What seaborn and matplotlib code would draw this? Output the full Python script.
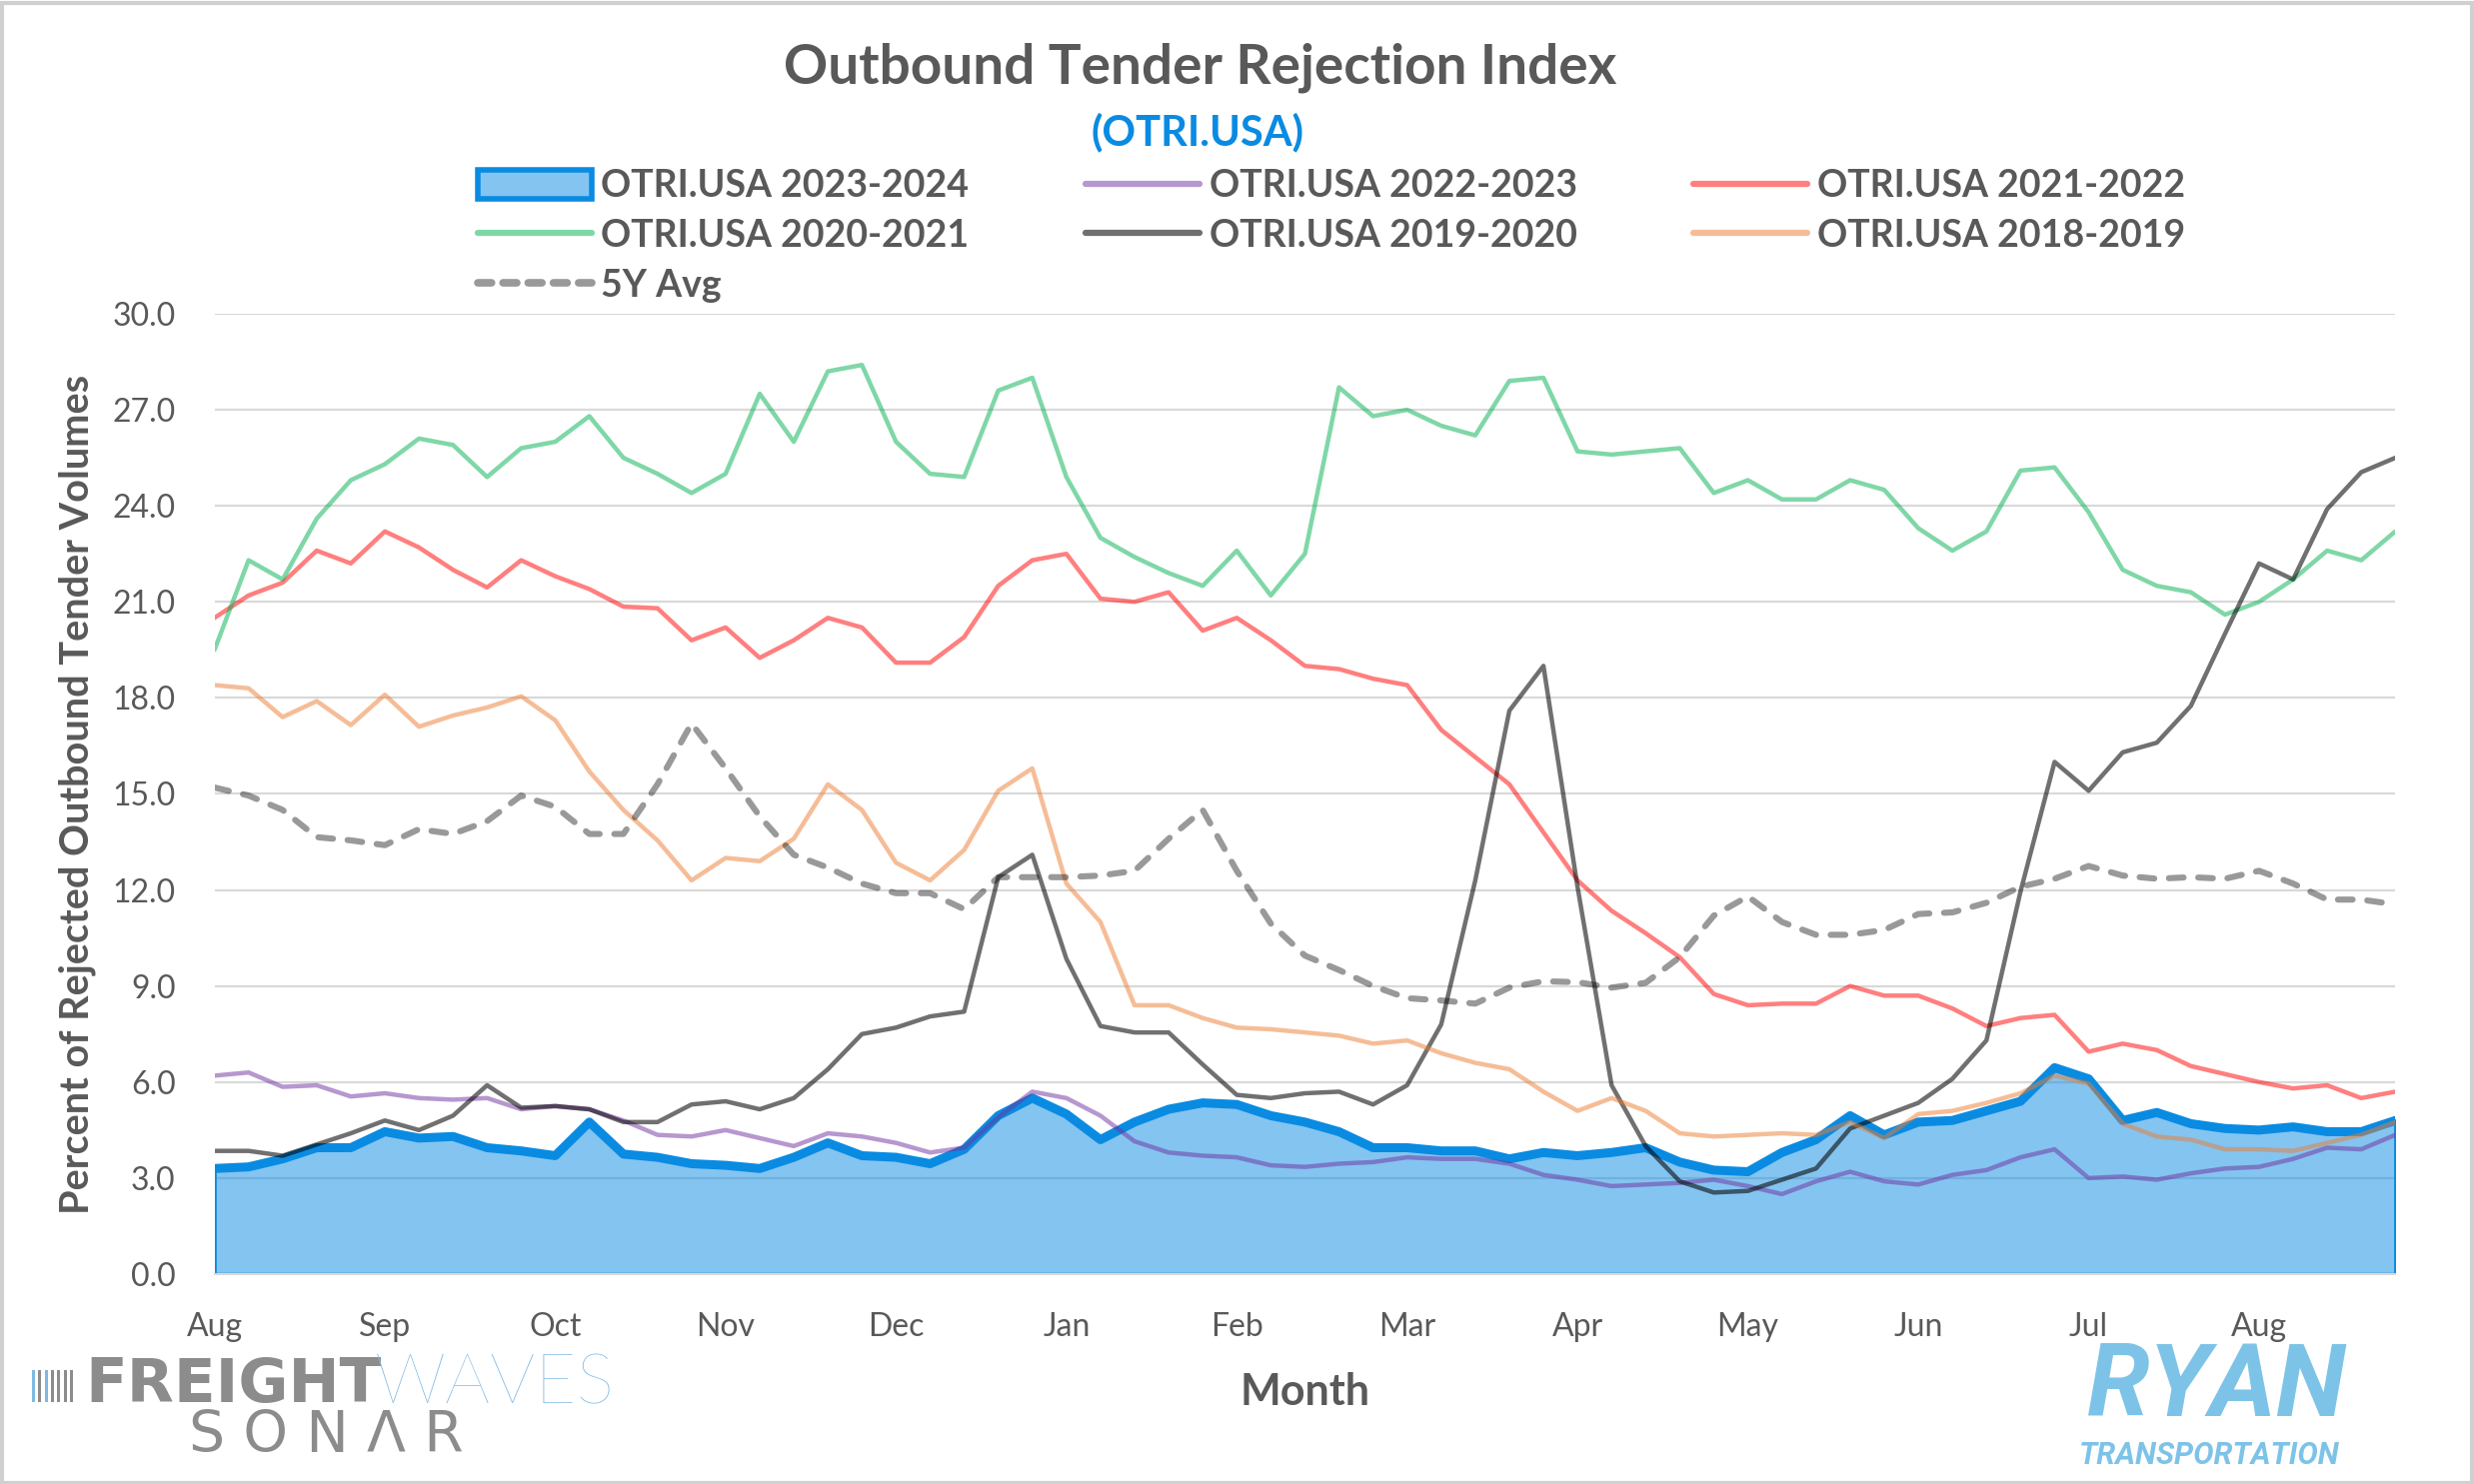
import numpy as np
import pandas as pd
import matplotlib
matplotlib.use("Agg")
import matplotlib.pyplot as plt
import seaborn as sns
from matplotlib.patches import Patch, Rectangle
from matplotlib.lines import Line2D

# ---------------- data ----------------
month_labels = ["Aug", "Sep", "Oct", "Nov", "Dec", "Jan", "Feb", "Mar",
                "Apr", "May", "Jun", "Jul", "Aug"]
# months elapsed since Aug 1 (sampled every ~6 days)
month_offset = np.round(np.arange(65) * 0.2, 1)

otri_2023_2024 = [3.3, 3.35, 3.6, 3.95, 3.95, 4.45, 4.25, 4.3, 3.95, 3.85, 3.7, 4.75, 3.75,
                  3.65, 3.45, 3.4, 3.3, 3.65, 4.1, 3.7, 3.65, 3.45, 3.9, 4.95, 5.5, 5.0,
                  4.2, 4.75, 5.15, 5.35, 5.3, 4.95, 4.75, 4.45, 3.95, 3.95, 3.85, 3.85,
                  3.6, 3.8, 3.7, 3.8, 3.95, 3.5, 3.25, 3.2, 3.8, 4.2, 4.95, 4.35, 4.75,
                  4.8, 5.1, 5.4, 6.45, 6.1, 4.8, 5.05, 4.7, 4.55, 4.5, 4.6, 4.45, 4.45, 4.8]
otri_2022_2023 = [6.2, 6.3, 5.85, 5.9, 5.55, 5.65, 5.5, 5.45, 5.5, 5.15, 5.25, 5.15, 4.8,
                  4.35, 4.3, 4.5, 4.25, 4.0, 4.4, 4.3, 4.1, 3.8, 3.95, 4.9, 5.7, 5.5,
                  4.95, 4.15, 3.8, 3.7, 3.65, 3.4, 3.35, 3.45, 3.5, 3.65, 3.6, 3.6,
                  3.45, 3.1, 2.95, 2.75, 2.8, 2.85, 2.95, 2.75, 2.5, 2.9, 3.2, 2.9, 2.8,
                  3.1, 3.25, 3.65, 3.9, 3.0, 3.05, 2.95, 3.15, 3.3, 3.35, 3.6, 3.95, 3.9, 4.35]
otri_2021_2022 = [20.5, 21.2, 21.6, 22.6, 22.2, 23.2, 22.7, 22.0, 21.45, 22.3, 21.8, 21.4,
                  20.85, 20.8, 19.8, 20.2, 19.25, 19.8, 20.5, 20.2, 19.1, 19.1, 19.9, 21.5,
                  22.3, 22.5, 21.1, 21.0, 21.3, 20.1, 20.5, 19.8, 19.0, 18.9, 18.6, 18.4,
                  17.0, 16.15, 15.3, 13.8, 12.3, 11.35, 10.65, 9.9, 8.75, 8.4, 8.45, 8.45,
                  9.0, 8.7, 8.7, 8.3, 7.75, 8.0, 8.1, 6.95, 7.2, 7.0, 6.5, 6.25, 6.0, 5.8,
                  5.9, 5.5, 5.7]
otri_2020_2021 = [19.5, 22.3, 21.7, 23.6, 24.8, 25.3, 26.1, 25.9, 24.9, 25.8, 26.0, 26.8,
                  25.5, 25.0, 24.4, 25.0, 27.5, 26.0, 28.2, 28.4, 26.0, 25.0, 24.9, 27.6,
                  28.0, 24.9, 23.0, 22.4, 21.9, 21.5, 22.6, 21.2, 22.5, 27.7, 26.8, 27.0,
                  26.5, 26.2, 27.9, 28.0, 25.7, 25.6, 25.7, 25.8, 24.4, 24.8, 24.2, 24.2,
                  24.8, 24.5, 23.3, 22.6, 23.2, 25.1, 25.2, 23.8, 22.0, 21.5, 21.3, 20.6,
                  21.0, 21.7, 22.6, 22.3, 23.2]
otri_2019_2020 = [3.85, 3.85, 3.7, 4.05, 4.4, 4.8, 4.5, 4.95, 5.9, 5.2, 5.25, 5.15, 4.75,
                  4.75, 5.3, 5.4, 5.15, 5.5, 6.4, 7.5, 7.7, 8.05, 8.2, 12.4, 13.1, 9.85,
                  7.75, 7.55, 7.55, 6.55, 5.6, 5.5, 5.65, 5.7, 5.3, 5.9, 7.8, 12.3, 17.6,
                  19.0, 12.1, 5.9, 4.0, 2.9, 2.55, 2.6, 2.95, 3.3, 4.55, 4.95, 5.35, 6.1,
                  7.3, 11.95, 16.0, 15.1, 16.3, 16.6, 17.75, 20.0, 22.2, 21.7, 23.9, 25.05, 25.5]
otri_2018_2019 = [18.4, 18.3, 17.4, 17.9, 17.15, 18.1, 17.1, 17.45, 17.7, 18.05, 17.3, 15.7,
                  14.5, 13.55, 12.3, 13.0, 12.9, 13.6, 15.3, 14.5, 12.85, 12.3, 13.25, 15.1,
                  15.8, 12.2, 11.0, 8.4, 8.4, 8.0, 7.7, 7.65, 7.55, 7.45, 7.2, 7.3, 6.9,
                  6.6, 6.4, 5.7, 5.1, 5.5, 5.1, 4.4, 4.3, 4.35, 4.4, 4.35, 4.75, 4.25, 5.0,
                  5.1, 5.35, 5.65, 6.2, 5.95, 4.7, 4.3, 4.2, 3.9, 3.9, 3.85, 4.1, 4.35, 4.75]
avg_5y = [15.2, 14.95, 14.5, 13.65, 13.55, 13.4, 13.9, 13.75, 14.15, 14.95, 14.6, 13.75,
          13.75, 15.3, 17.2, 15.8, 14.3, 13.1, 12.7, 12.2, 11.9, 11.9, 11.4, 12.4, 12.4,
          12.4, 12.45, 12.6, 13.6, 14.5, 12.6, 10.95, 9.95, 9.5, 9.0, 8.62, 8.55, 8.45,
          8.95, 9.15, 9.12, 8.95, 9.1, 9.9, 11.2, 11.8, 11.0, 10.6, 10.6, 10.75, 11.25,
          11.3, 11.6, 12.1, 12.35, 12.75, 12.45, 12.35, 12.4, 12.35, 12.6, 12.2, 11.7,
          11.7, 11.55]

y_ticks = np.arange(0, 30.1, 3.0)

# ---------------- style ----------------
sns.set_style("white")
plt.rcParams["font.family"] = ["Lato", "DejaVu Sans"]
TXT = "#595959"
GRID = "#d9d9d9"
BLUE = "#0A8BE2"
FILL = (0.04, 0.545, 0.886, 0.5)

fig = plt.figure(figsize=(24.75, 14.85), dpi=100)
ax = fig.add_axes([0.0867, 0.1414, 0.8815, 0.6472])

df = pd.DataFrame({
    "month": month_offset,
    "OTRI.USA 2023-2024": otri_2023_2024,
    "OTRI.USA 2022-2023": otri_2022_2023,
    "OTRI.USA 2021-2022": otri_2021_2022,
    "OTRI.USA 2020-2021": otri_2020_2021,
    "OTRI.USA 2019-2020": otri_2019_2020,
    "OTRI.USA 2018-2019": otri_2018_2019,
    "5Y Avg": avg_5y,
})

# area for current season
ax.fill_between(df["month"], 0, df["OTRI.USA 2023-2024"],
                facecolor=FILL, edgecolor=BLUE, linewidth=2.5, zorder=2)
sns.lineplot(data=df, x="month", y="OTRI.USA 2023-2024", ax=ax, color=BLUE,
             linewidth=6.5, zorder=3, legend=False)

styles = [
    ("OTRI.USA 2022-2023", "#7030A0", 0.5),
    ("OTRI.USA 2021-2022", "#FF0000", 0.5),
    ("OTRI.USA 2020-2021", "#00B050", 0.5),
    ("OTRI.USA 2019-2020", "#000000", 0.56),
    ("OTRI.USA 2018-2019", "#ED7D31", 0.5),
]
for col, c, a in styles:
    sns.lineplot(data=df, x="month", y=col, ax=ax, color=c, alpha=a,
                 linewidth=3.2, zorder=4, legend=False)

sns.lineplot(data=df, x="month", y="5Y Avg", ax=ax, color="#000000", alpha=0.4,
             linewidth=4.4, zorder=4, legend=False)
dash_line = ax.lines[-1]
dash_line.set_dashes((2.4, 2.4))
dash_line.set_dash_capstyle("round")

# axes formatting
ax.set_xlim(0, 12.8)
ax.set_ylim(0, 30)
ax.set_xticks(range(13))
ax.set_xticklabels(month_labels)
ax.set_yticks(y_ticks)
ax.set_yticklabels([f"{v:.1f}" for v in y_ticks])
ax.tick_params(axis="x", colors=GRID, length=7, width=1.5, direction="out",
               labelcolor=TXT, labelsize=23, pad=20)
ax.tick_params(axis="y", length=0, labelcolor=TXT, labelsize=23, pad=28)
for s in ["top", "right", "left"]:
    ax.spines[s].set_visible(False)
ax.spines["bottom"].set_color(GRID)
ax.spines["bottom"].set_linewidth(1.5)
ax.yaxis.grid(True, color=GRID, linewidth=1.6)
ax.set_axisbelow(True)
ax.set_xlabel("Month", fontsize=31, fontweight="bold", color=TXT, labelpad=22)
ax.set_ylabel("Percent of Rejected Outbound Tender Volumes", fontsize=28.5,
              fontweight="bold", color=TXT, labelpad=12)

# titles
fig.text(0.485, 0.9545, "Outbound Tender Rejection Index", ha="center", va="center",
         fontsize=39.5, fontweight="bold", color=TXT)
fig.text(0.484, 0.911, "(OTRI.USA)", ha="center", va="center",
         fontsize=30, fontweight="bold", color=BLUE)

# legend (column-major fill to get the row layout of the original)
h_blue = Patch(facecolor=FILL, edgecolor=BLUE, linewidth=4)
def lh(c, a, lw=4.5, ls="-"):
    return Line2D([0], [0], color=c, alpha=a, linewidth=lw, linestyle=ls)
h_dash = Line2D([0], [0], color="#000000", alpha=0.4, linewidth=5.5,
                dashes=(1.8, 1.5), dash_capstyle="round")
handles = [h_blue, lh("#00B050", 0.5), h_dash,
           lh("#7030A0", 0.5), lh("#000000", 0.56),
           lh("#FF0000", 0.5), lh("#ED7D31", 0.5)]
labels = ["OTRI.USA 2023-2024", "OTRI.USA 2020-2021", "5Y Avg",
          "OTRI.USA 2022-2023", "OTRI.USA 2019-2020",
          "OTRI.USA 2021-2022", "OTRI.USA 2018-2019"]
fig.legend(handles, labels, ncol=3, loc="upper left", bbox_to_anchor=(0.193, 0.886),
           frameon=False, handlelength=3.05, handleheight=0.8, handletextpad=0.25,
           columnspacing=3.1, labelspacing=0.42, borderpad=0, borderaxespad=0,
           prop={"size": 27, "weight": "bold"}, labelcolor=TXT)

# logos (text approximations)
bar_cols = ["#7fb9e2", "#8c8c8c", "#7fb9e2", "#8c8c8c", "#8c8c8c", "#8c8c8c", "#8c8c8c"]
for i, c in enumerate(bar_cols):
    fig.add_artist(Rectangle((0.0128 + i * 0.0026, 0.0555), 0.0012, 0.0215,
                             transform=fig.transFigure, color=c, lw=0))
fig.text(0.0345, 0.0665, "FREIGHT", ha="left", va="center", fontsize=44,
         fontweight="bold", color="#8c8c8c", family="DejaVu Sans")
fig.text(0.1515, 0.0665, "WAVES", ha="left", va="center", fontsize=51,
         fontweight="light", color="#7fb9e2")
fig.text(0.0765, 0.0317, "S O N Λ R", ha="left", va="center", fontsize=41,
         color="#8c8c8c", family="DejaVu Sans")
fig.text(0.8435, 0.0455, "RYAN", ha="left", va="baseline", fontsize=73,
         fontweight="bold", style="italic", color="#7dc3e8", family="Roboto")
fig.text(0.8405, 0.0189, "TRANSPORTATION", ha="left", va="center", fontsize=22,
         fontweight="bold", style="italic", color="#7dc3e8", family="Roboto")

fig.add_artist(Rectangle((0.0008, 0.001), 0.9984, 0.997, transform=fig.transFigure,
                         fill=False, edgecolor="#d0d0d0", linewidth=3))

fig.savefig("out.png", dpi=100)
